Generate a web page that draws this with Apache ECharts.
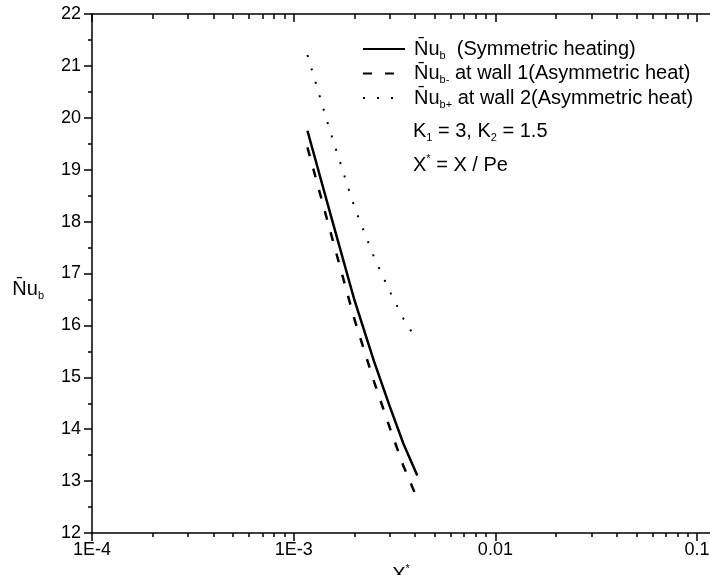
<!DOCTYPE html>
<html><head><meta charset="utf-8">
<script src="https://cdn.jsdelivr.net/npm/echarts@6/dist/echarts.min.js"></script>
<style>html,body{margin:0;padding:0;background:#fff}#c{width:710px;height:575px}</style>
</head><body><div id="c"></div>
<script>
// ---- data ----
const xValues  = [1.17e-3, 1.5e-3, 2.0e-3, 2.5e-3, 3.0e-3, 3.5e-3, 4.1e-3];
const nuSym    = [19.75, 18.23, 16.49, 15.31, 14.43, 13.72, 13.11];
const nuWall1  = [19.43, 17.89, 16.12, 14.92, 14.02, 13.29, 12.66];
const nuWall2  = [21.21, 19.80, 18.28, 17.32, 16.65, 16.13, 15.70];
const seriesNames = ['Nub sym', 'Nub- wall1', 'Nub+ wall2'];
const legendLabels = [
  '{m|N\u0304u}{sub|b}{m|  (Symmetric heating)}',
  '{m|N\u0304u}{sub|b-}{m| at wall 1(Asymmetric heat)}',
  '{m|N\u0304u}{sub|b+}{m| at wall 2(Asymmetric heat)}'
];
const xMajorTicks = [1e-4, 1e-3, 1e-2, 1e-1];
const xTickLabels = ['1E-4', '1E-3', '0.01', '0.1'];
const xMinorTicks = [2e-4,3e-4,4e-4,5e-4,6e-4,7e-4,8e-4,9e-4,
                     2e-3,3e-3,4e-3,5e-3,6e-3,7e-3,8e-3,9e-3,
                     0.02,0.03,0.04,0.05,0.06,0.07,0.08,0.09];
const yMin = 12, yMax = 22, yStep = 1;
const xMin = 1e-4, xMax = 0.1159;

const FONT = 'Liberation Sans, Arial, sans-serif';
const rich = {
  m:   {fontFamily: FONT, fontSize: 20, lineHeight: 24, color: '#000'},
  sub: {fontFamily: FONT, fontSize: 11, lineHeight: 10, verticalAlign: 'bottom', color: '#000'},
  sup: {fontFamily: FONT, fontSize: 11, lineHeight: 10, verticalAlign: 'top', color: '#000'}
};

const chart = echarts.init(document.getElementById('c'), null, {renderer: 'canvas'});
const axisLine = {show: true, onZero: false, lineStyle: {color: '#000', width: 1.5}};
function logAxis(pos, ticks, len, inside, showLine, extra) {
  return Object.assign({
    type: 'log', logBase: 10, min: xMin, max: xMax, position: pos,
    axisLine: Object.assign({}, axisLine, {show: showLine}),
    axisTick: {show: true, inside: inside, length: len, customValues: ticks,
               lineStyle: {color: '#000', width: 1.5}},
    axisLabel: {show: false},
    splitLine: {show: false}, minorTick: {show: false}, minorSplitLine: {show: false}
  }, extra || {});
}
function mkSeries(i, vals, lineType, width) {
  return {
    name: seriesNames[i], type: 'line', xAxisIndex: 0, yAxisIndex: 0,
    data: xValues.map((x, k) => [x, vals[k]]),
    symbol: 'none', smooth: false,
    lineStyle: {color: '#000', width: width, type: lineType},
    itemStyle: {color: '#000'}, z: 3
  };
}

chart.setOption({
  animation: false,
  backgroundColor: '#fff',
  grid: {left: 92, right: 0, top: 14, bottom: 42, containLabel: false, outerBoundsMode: 'none'},
  xAxis: [
    logAxis('bottom', xMajorTicks, 8, false, true, {
      axisLabel: {show: true, customValues: xMajorTicks, margin: 8,
        fontFamily: FONT, fontSize: 18, color: '#000',
        formatter: v => { const i = xMajorTicks.findIndex(t => Math.abs(Math.log10(t) - Math.log10(v)) < 1e-6); return i >= 0 ? xTickLabels[i] : ''; }},
      name: '{m|X}{sup|*}', nameLocation: 'middle', nameGap: 30,
      nameTextStyle: {rich: rich}
    }),
    logAxis('bottom', xMinorTicks, 4, false, false),
    logAxis('top', xMajorTicks, 8, true, true),
    logAxis('top', xMinorTicks, 5, true, false)
  ],
  yAxis: [{
    type: 'value', min: yMin, max: yMax, interval: yStep, position: 'left',
    axisLine: axisLine,
    axisTick: {show: true, length: 8, lineStyle: {color: '#000', width: 1.5}},
    minorTick: {show: true, splitNumber: 2, length: 4, lineStyle: {color: '#000', width: 1.5}},
    axisLabel: {fontFamily: FONT, fontSize: 18, color: '#000', margin: 11},
    splitLine: {show: false}, minorSplitLine: {show: false},
    name: '{m|N\u0304u}{sub|b}', nameLocation: 'middle', nameRotate: 0, nameGap: 48,
    nameTextStyle: {rich: rich, padding: [31, 0, 0, 0]}
  }],
  legend: {
    orient: 'vertical', left: 357, top: 34, itemGap: 2.5,
    itemWidth: 42, itemHeight: 14,
    data: seriesNames,
    formatter: name => legendLabels[seriesNames.indexOf(name)],
    textStyle: {rich: rich, padding: [0, 0, 0, 4]},
    itemStyle: {opacity: 0},
    selectedMode: false
  },
  graphic: [
    {type: 'text', left: 413, top: 121, style: {
      text: '{m|K}{sub|1}{m| = 3, K}{sub|2}{m| = 1.5}', rich: rich, fill: '#000'}},
    {type: 'text', left: 413, top: 153, style: {
      text: '{m|X}{sup|*}{m| = X / Pe}', rich: rich, fill: '#000'}}
  ],
  series: [
    mkSeries(0, nuSym, 'solid', 2.5),
    mkSeries(1, nuWall1, [9, 13], 2.5),
    mkSeries(2, nuWall2, [2, 12], 2)
  ]
});
</script></body></html>
